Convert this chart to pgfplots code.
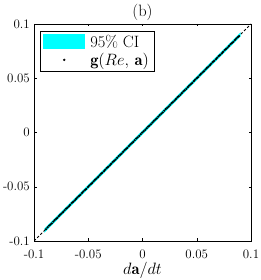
\RequirePackage{fix-cm}
\documentclass[border=0pt]{standalone}
\usepackage{fontspec}
\usepackage{pgfplots}
\pgfplotsset{compat=1.18}
\definecolor{cy}{rgb}{0,1,1}
\begin{document}
\begin{tikzpicture}[x=1bp,y=1bp]
\path (0,0) rectangle (260,280);
\begin{axis}[
  at={(34bp,39bp)}, anchor=south west,
  width=217bp, height=217bp, scale only axis,
  xmin=-0.1, xmax=0.1, ymin=-0.1, ymax=0.1,
  xtick={-0.1,-0.05,0,0.05,0.1}, ytick={-0.1,-0.05,0,0.05,0.1},
  xticklabels={-0.1,-0.05,0,0.05,0.1}, yticklabels={-0.1,-0.05,0,0.05,0.1},
  tick label style={font=\fontsize{13}{15}\selectfont, inner sep=1bp},
  xticklabel style={yshift=-8bp},
  yticklabel style={xshift=-3bp},
  tick align=inside, tick pos=both,
  major tick length=2.5bp,
  tick style={black, line width=0.4pt},
  axis line style={black, line width=0.5pt},
  title={(b)}, title style={font=\fontsize{16.5}{19}\selectfont, yshift=-6bp},
  xlabel={$d\mathbf{a}/dt$}, xlabel style={font=\fontsize{16.5}{19}\selectfont, inner sep=1bp, yshift=-1bp},
  legend style={draw=black, line width=0.4pt, at={(0.028,0.968)}, anchor=north west,
    font=\fontsize{16.5}{19}\selectfont, inner xsep=3bp, inner ysep=2bp, row sep=0bp, column sep=3bp},
  legend cell align=left,
]
\addplot[fill=cy, draw=none, area legend,
  legend image code/.code={\fill[cy] (0bp,-7bp) rectangle (42bp,8bp);}]
  coordinates {(-0.0905,-0.0925) (0.0905,0.0885) (0.0905,0.0925) (-0.0905,-0.0885)} -- cycle;
\addlegendentry{95\% CI}
\addplot[black, line width=0.9pt, dash pattern=on 2.5bp off 2bp, forget plot]
  coordinates {(-0.1,-0.1) (0.1,0.1)};
\addplot[only marks, mark=*, mark size=0.85pt, black,
  legend image code/.code={\fill[black] (21bp,0bp) circle (1bp);}]
  coordinates {
  (-0.0890,-0.0892) (-0.0875,-0.0874) (-0.0860,-0.0858) (-0.0848,-0.0849) (-0.0835,-0.0837) (-0.0822,-0.0821) (-0.0810,-0.0808)
  (-0.0797,-0.0798) (-0.0785,-0.0787) (-0.0772,-0.0771) (-0.0760,-0.0758) (-0.0746,-0.0747) (-0.0732,-0.0735) (-0.0718,-0.0717) (-0.0705,-0.0703)
  (-0.0692,-0.0693) (-0.0680,-0.0682) (-0.0666,-0.0665) (-0.0652,-0.0650) (-0.0638,-0.0639) (-0.0625,-0.0627) (-0.0612,-0.0611) (-0.0600,-0.0598)
  (-0.0586,-0.0587) (-0.0572,-0.0574) (-0.0558,-0.0557) (-0.0545,-0.0543) (-0.0531,-0.0532) (-0.0518,-0.0520) (-0.0504,-0.0503) (-0.0490,-0.0488)
  (-0.0477,-0.0478) (-0.0465,-0.0467) (-0.0451,-0.0450) (-0.0438,-0.0436) (-0.0424,-0.0425) (-0.0410,-0.0412) (-0.0396,-0.0395) (-0.0383,-0.0381)
  (-0.0370,-0.0371) (-0.0356,-0.0358) (-0.0343,-0.0342) (-0.0330,-0.0328) (-0.0316,-0.0317) (-0.0302,-0.0304) (-0.0288,-0.0287) (-0.0275,-0.0273)
  (-0.0262,-0.0263) (-0.0248,-0.0250) (-0.0234,-0.0233) (-0.0220,-0.0218) (-0.0206,-0.0207) (-0.0193,-0.0195) (-0.0180,-0.0179) (-0.0166,-0.0164)
  (-0.0153,-0.0154) (-0.0140,-0.0142) (-0.0126,-0.0125) (-0.0112,-0.0110) (-0.0098,-0.0099) (-0.0085,-0.0087) (-0.0072,-0.0071) (-0.0058,-0.0056)
  (-0.0044,-0.0045) (-0.0030,-0.0032) (-0.0016,-0.0015) (-0.0003,-0.0001) (0.0010,0.0011) (0.0024,0.0022) (0.0038,0.0039) (0.0051,0.0053)
  (0.0064,0.0063) (0.0078,0.0076) (0.0092,0.0093) (0.0106,0.0108) (0.0120,0.0119) (0.0133,0.0131) (0.0146,0.0147) (0.0160,0.0162)
  (0.0174,0.0173) (0.0187,0.0185) (0.0200,0.0201) (0.0214,0.0216) (0.0228,0.0227) (0.0241,0.0239) (0.0254,0.0255) (0.0268,0.0270)
  (0.0282,0.0281) (0.0296,0.0294) (0.0310,0.0311) (0.0323,0.0325) (0.0336,0.0335) (0.0350,0.0348) (0.0364,0.0365) (0.0377,0.0379)
  (0.0390,0.0389) (0.0404,0.0402) (0.0418,0.0419) (0.0431,0.0433) (0.0444,0.0443) (0.0458,0.0456) (0.0472,0.0473) (0.0486,0.0488)
  (0.0500,0.0499) (0.0513,0.0511) (0.0526,0.0527) (0.0540,0.0542) (0.0554,0.0553) (0.0567,0.0565) (0.0580,0.0581) (0.0594,0.0596)
  (0.0608,0.0607) (0.0621,0.0619) (0.0634,0.0635) (0.0648,0.0650) (0.0662,0.0661) (0.0676,0.0674) (0.0690,0.0691) (0.0703,0.0705)
  (0.0716,0.0715) (0.0730,0.0728) (0.0744,0.0745) (0.0757,0.0759) (0.0770,0.0769) (0.0784,0.0782) (0.0798,0.0799) (0.0811,0.0813)
  (0.0824,0.0823) (0.0838,0.0836) (0.0852,0.0853) (0.0865,0.0867) (0.0878,0.0877) (0.0890,0.0888)
  };
\addlegendentry{$\mathbf{g}(Re,\,\mathbf{a})$}
\end{axis}
\end{tikzpicture}
\end{document}
